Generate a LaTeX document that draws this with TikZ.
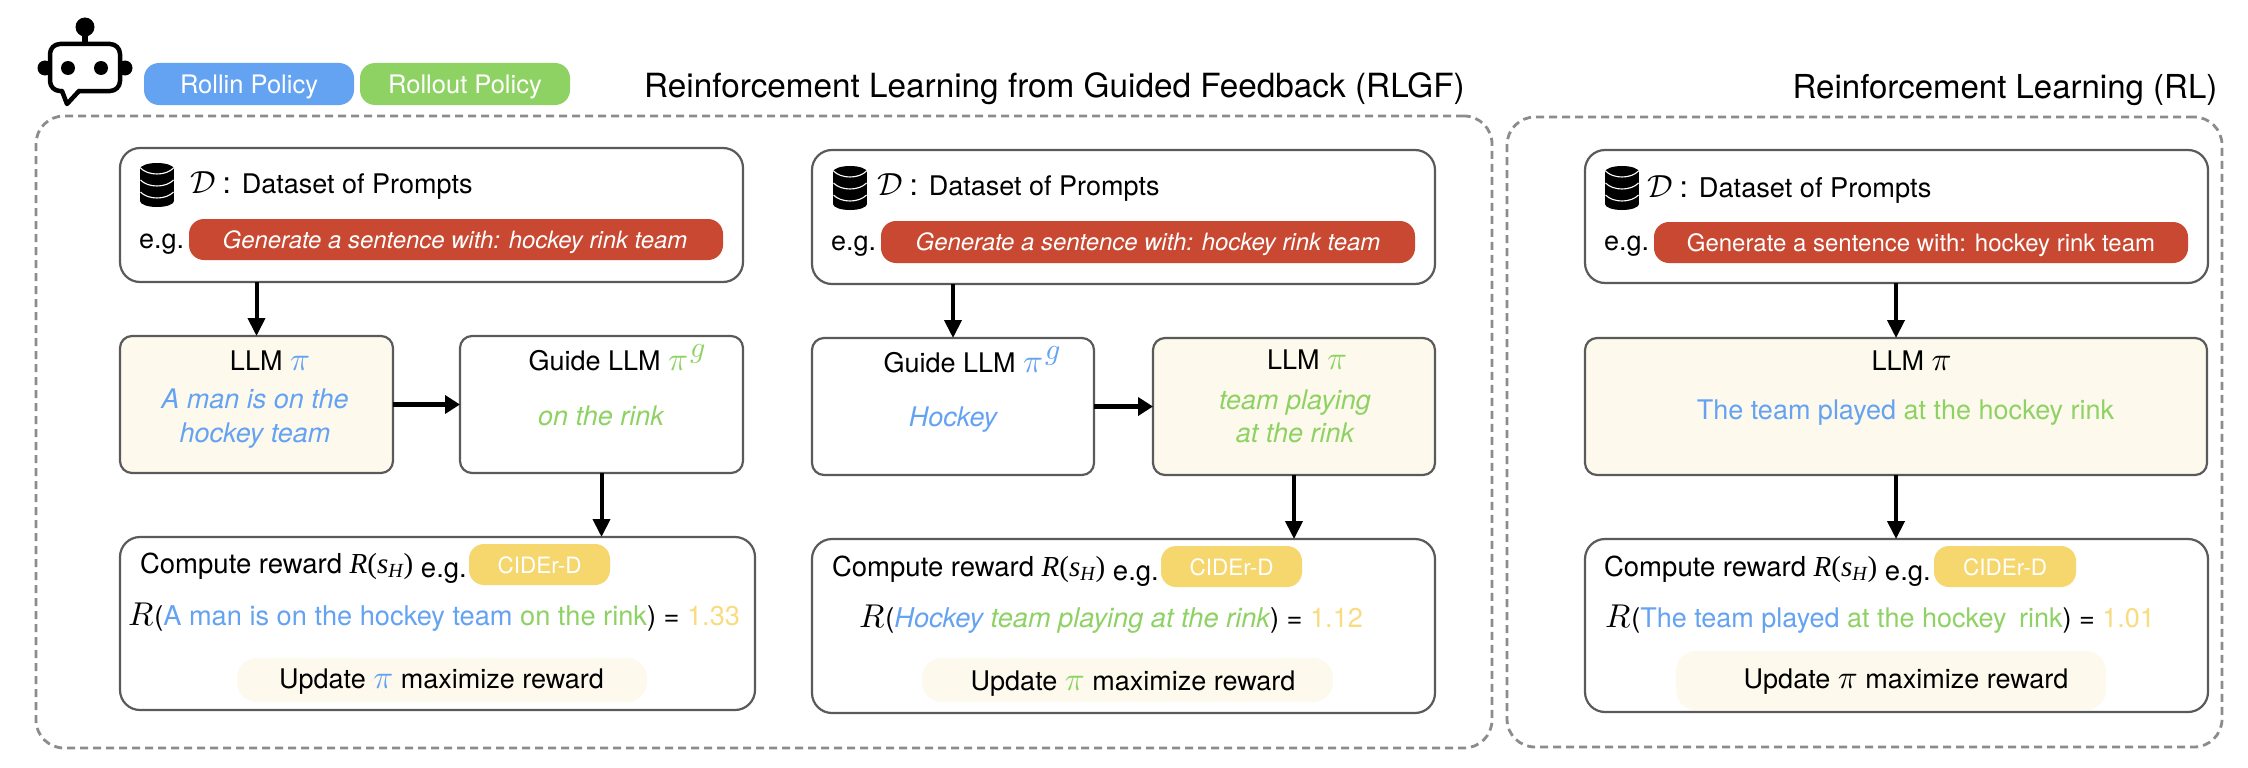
\documentclass[tikz,border=0pt]{standalone}
\usepackage{graphicx}
\usepackage{fontspec}
\usetikzlibrary{arrows.meta}
\setmainfont{TeX Gyre Heros}
\newfontfamily\tms{Liberation Serif}
\definecolor{cblue}{HTML}{64A2F2}
\definecolor{cgreen}{HTML}{8FD264}
\definecolor{cyel}{HTML}{F5D76E}
\definecolor{cnum}{HTML}{F8DC80}
\definecolor{cred}{HTML}{C84831}
\definecolor{ccream}{HTML}{FDF9EC}
\definecolor{cline}{HTML}{5A5A5A}
\definecolor{cdash}{HTML}{8C8C8C}
\tikzset{
  x=1pt,y=-1pt,
  base/.style={inner sep=0pt,outer sep=0pt,rectangle},
  txtn/.style={inner sep=0pt,outer sep=0pt,text=black},
  outer/.style={base,draw=cdash,line width=2.8pt,dash pattern=on 8pt off 5pt,rounded corners=28pt},
  bigbox/.style={base,draw=cline,line width=2.2pt,rounded corners=20pt,fill=white},
  lbox/.style={base,draw=cline,line width=2.2pt,rounded corners=12pt,fill=white},
  lcream/.style={lbox,fill=ccream},
  redp/.style={base,fill=cred,rounded corners=15pt},
  bluep/.style={base,fill=cblue,rounded corners=15pt},
  greenp/.style={base,fill=cgreen,rounded corners=15pt},
  yelp/.style={base,fill=cyel,rounded corners=15pt},
  creamp/.style={base,fill=ccream,rounded corners=20pt},
  va/.style={-{Triangle[length=18pt,width=17pt]},line width=4pt,black},
  ha/.style={-{Triangle[length=15pt,width=18pt]},line width=5pt,black},
}
\newcommand\bx[6]{%
  \pgfmathsetmacro\wdd{#5-(#3)}\pgfmathsetmacro\htt{#6-(#4)}%
  \pgfmathsetmacro\cxx{(#3+#5)/2}\pgfmathsetmacro\cyy{(#4+#6)/2}%
  \node[#2,minimum width=\wdd pt,minimum height=\htt pt] (#1) at (\cxx,\cyy) {};}
\newcommand\tx[6]{\node[txtn,anchor=#2,font=\fontsize{#3}{#3}\selectfont] (#1) at (#4,#5) {#6};}
\newcommand\mbig[2]{\scalebox{#1}{\fontsize{10}{12}\selectfont$#2$}}
\newcommand\bpi[1]{\textcolor{#1}{\mbig{3.3}{\pi}}}
\newcommand\bpig[1]{\textcolor{#1}{\mbig{3.3}{\pi}\hspace{2pt}\raisebox{13pt}{\mbig{3}{g}}}}
\newcommand\RsH{{\tms\fontsize{29}{29}\selectfont\textit{R}(\textit{s}\raisebox{-4pt}{\fontsize{20}{20}\selectfont\textit{H}})}}
\newcommand\bigR{\mbig{3.3}{R}\hspace{1pt}(}
\newcommand\dset{\mbig{3.2}{\mathcal{D}}\hspace{7pt}{\fontsize{30}{30}\selectfont:}\hspace{11pt}Dataset of Prompts}
\newcommand\compute{Compute reward \RsH{} \raisebox{-4pt}{e.g.}}
\newcommand\dbicon[2]{%
  \begin{scope}[shift={(#1,#2)}]
    \fill[black] (17,6) ellipse (17 and 6);
    \fill[black] (0,6) rectangle (34,38);
    \fill[black] (17,38) ellipse (17 and 6);
    \draw[white,line width=1.1pt] (0.5,5) .. controls (8,13) and (26,13) .. (33.5,5);
    \draw[white,line width=1.1pt] (0.5,17) .. controls (8,25) and (26,25) .. (33.5,17);
    \draw[white,line width=1.1pt] (0.5,29) .. controls (8,37) and (26,37) .. (33.5,29);
  \end{scope}}
\begin{document}
\begin{tikzpicture}
\fill[white] (0,0) rectangle (2248,768);
\useasboundingbox (0,0) rectangle (2248,768);
% robot
\fill[black] (82,30) rectangle (88,44);
\fill[black] (45,68) circle (7.5);
\fill[black] (125,68) circle (7.5);
\draw[black,line width=4.5pt,fill=white,rounded corners=10pt,line join=round] (78,91) -- (120,91) -- (120,44) -- (50,44) -- (50,91) -- (62,91);
\draw[black,line width=4.5pt,line join=round,line cap=round] (62,91) -- (67,104) -- (79,91);
\fill[black] (68,68) circle (7);
\fill[black] (101,68) circle (7);
\fill[black] (85,27) circle (9.5);
% legend
\bx{rollin}{bluep}{144}{63}{354}{105}
\bx{rollout}{greenp}{360}{63}{570}{105}
\tx{trollin}{base}{25.5}{249}{93}{\textcolor{white}{Rollin Policy}}
\tx{trollout}{base}{25.5}{465}{93}{\textcolor{white}{Rollout Policy}}
\tx{t1}{base}{33.3}{1054.5}{97}{Reinforcement Learning from Guided Feedback (RLGF)}
\tx{t2}{base}{33}{2005}{99}{Reinforcement Learning (RL)}
% outer
\bx{o1}{outer}{36}{116}{1492}{748}
\bx{o2}{outer}{1507}{117}{2222}{747}
% column 1
\bx{p1}{bigbox}{120}{148}{743}{282}
\bx{rp1}{redp}{189}{219}{723}{260}
\dbicon{140}{163}
\tx{d1}{base west}{27}{190}{193}{\dset}
\tx{eg1}{base west}{27}{139}{248}{e.g.}
\tx{gen1}{base}{23.9}{455}{248}{\textcolor{white}{\itshape Generate a sentence with: hockey rink team}}
\bx{l1}{lcream}{120}{336}{393}{473}
\bx{g1}{lbox}{460}{336}{743}{473}
\tx{ll1}{base}{27}{270}{370}{LLM \bpi{cblue}}
\tx{gl1}{base}{27}{617}{370}{Guide LLM \bpig{cgreen}}
\tx{a11}{base}{27}{255}{408}{\textcolor{cblue}{\itshape A man is on the}}
\tx{a12}{base}{27}{255}{442}{\textcolor{cblue}{\itshape hockey team}}
\tx{a13}{base}{27}{601}{425}{\textcolor{cgreen}{\itshape on the rink}}
\bx{r1}{bigbox}{120}{537}{755}{710}
\bx{c1}{yelp}{469}{544}{610}{585}
\tx{ct1}{base}{22.5}{539.5}{573}{\textcolor{white}{CIDEr-D}}
\tx{cp1}{base west}{27.5}{140}{573}{\compute}
\tx{rl1}{base west}{27.2}{128}{625}{\bigR\textcolor{cblue}{A man is on the hockey team} \textcolor{cgreen}{on the rink}) = \textcolor{cnum}{1.33}}
\bx{u1}{creamp}{237}{658}{647}{702}
\tx{ut1}{base}{27}{441.5}{688}{Update \bpi{cblue} maximize reward}
\draw[va] (p1.south -| l1.north) -- (l1.north);
\draw[ha] (l1.east) -- (g1.west);
\draw[va] (g1.south) -- (g1.south |- r1.north);
% column 2
\bx{p2}{bigbox}{812}{150}{1435}{284}
\bx{rp2}{redp}{881}{221}{1415}{263}
\dbicon{833}{166}
\tx{d2}{base west}{27}{877}{195}{\dset}
\tx{eg2}{base west}{27}{831}{250}{e.g.}
\tx{gen2}{base}{23.9}{1148}{250}{\textcolor{white}{\itshape Generate a sentence with: hockey rink team}}
\bx{g2}{lbox}{812}{338}{1094}{475}
\bx{l2}{lcream}{1153}{338}{1435}{475}
\tx{gl2}{base}{27}{972}{372}{Guide LLM \bpig{cblue}}
\tx{ll2}{base}{27}{1307}{369}{LLM \bpi{cgreen}}
\tx{a21}{base}{27}{953}{426}{\textcolor{cblue}{\itshape Hockey}}
\tx{a22}{base}{27}{1295}{409}{\textcolor{cgreen}{\itshape team playing}}
\tx{a23}{base}{27}{1295}{442}{\textcolor{cgreen}{\itshape at the rink}}
\bx{r2}{bigbox}{812}{539}{1435}{713}
\bx{c2}{yelp}{1161}{546}{1302}{587}
\tx{ct2}{base}{22.5}{1231.5}{575}{\textcolor{white}{CIDEr-D}}
\tx{cp2}{base west}{27.5}{832}{576}{\compute}
\tx{rl2}{base west}{27.2}{859}{627}{\bigR\textcolor{cblue}{\itshape Hockey} \textcolor{cgreen}{\itshape team playing at the rink}) = \textcolor{cnum}{1.12}}
\bx{u2}{creamp}{922}{658}{1333}{702}
\tx{ut2}{base}{27}{1133}{690}{Update \bpi{cgreen} maximize reward}
\draw[va] (p2.south -| g2.north) -- (g2.north);
\draw[ha] (g2.east) -- (l2.west);
\draw[va] (l2.south) -- (l2.south |- r2.north);
% column 3
\bx{p3}{bigbox}{1585}{150}{2208}{283}
\bx{rp3}{redp}{1654}{222}{2188}{263}
\dbicon{1605}{166}
\tx{d3}{base west}{27.2}{1647}{197}{\dset}
\tx{eg3}{base west}{27}{1604}{250}{e.g.}
\tx{gen3}{base}{24}{1921}{251}{\textcolor{white}{Generate a sentence with: hockey rink team}}
\bx{l3}{lcream}{1585}{338}{2207}{475}
\tx{ll3}{base}{27}{1911.5}{370}{LLM \bpi{black}}
\tx{a31}{base}{27}{1905.5}{419}{\textcolor{cblue}{The team played} \textcolor{cgreen}{at the hockey rink}}
\bx{r3}{bigbox}{1585}{539}{2208}{712}
\bx{c3}{yelp}{1934}{546}{2076}{587}
\tx{ct3}{base}{22.5}{2005}{575}{\textcolor{white}{CIDEr-D}}
\tx{cp3}{base west}{27.5}{1604}{576}{\compute}
\tx{rl3}{base west}{27}{1605}{627}{\bigR\textcolor{cblue}{The team played} \textcolor{cgreen}{at the hockey\hspace{5pt} rink}) = \textcolor{cnum}{1.01}}
\bx{u3}{creamp}{1676}{651}{2106}{710}
\tx{ut3}{base}{27}{1906}{688}{Update \bpi{black} maximize reward}
\draw[va] (p3.south -| l3.north) -- (l3.north);
\draw[va] (l3.south) -- (l3.south |- r3.north);
\end{tikzpicture}
\end{document}
